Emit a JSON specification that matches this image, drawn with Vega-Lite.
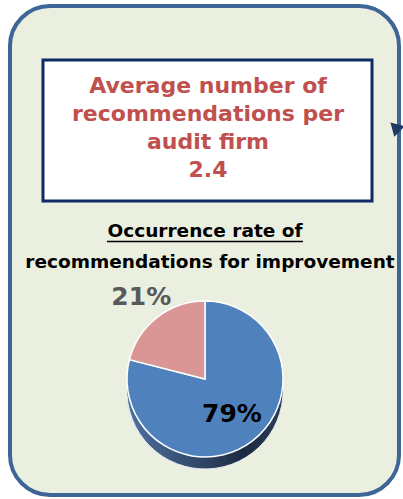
{
  "$schema": "https://vega.github.io/schema/vega-lite/v6.json",
  "width": 389,
  "height": 489,
  "autosize": "none",
  "padding": {"left": 10, "top": 6, "right": 4, "bottom": 4},
  "background": "white",
  "config": {
    "view": {"fill": "#EBEFDF", "stroke": "#3D6596", "strokeWidth": 4, "cornerRadius": 40},
    "font": "DejaVu Sans"
  },
  "data": {
    "values": [
      {"cat": "With recommendations", "value": 79, "label": "79%"},
      {"cat": "Without recommendations", "value": 21, "label": "21%"}
    ]
  },
  "layer": [
    {
      "data": {"values": [{}]},
      "mark": {"type": "rect", "fill": "white", "stroke": "#0F2B66", "strokeWidth": 3},
      "encoding": {
        "x": {"datum": 8.48, "type": "quantitative", "scale": {"domain": [0, 100]}, "axis": null},
        "x2": {"datum": 93.06},
        "y": {"datum": 11.04, "type": "quantitative", "scale": {"domain": [0, 100], "reverse": true}, "axis": null},
        "y2": {"datum": 39.88}
      }
    },
    {
      "data": {"values": [{}]},
      "mark": {"type": "text", "text": ["Average number of", "recommendations per", "audit firm", "2.4"], "fontSize": 22, "fontWeight": "bold", "fill": "#C0504D", "align": "center", "baseline": "alphabetic", "lineHeight": 28},
      "encoding": {
        "x": {"datum": 50.9, "type": "quantitative", "scale": {"domain": [0, 100]}, "axis": null},
        "y": {"datum": 17.79, "type": "quantitative", "scale": {"domain": [0, 100], "reverse": true}, "axis": null}
      }
    },
    {
      "data": {"values": [{}]},
      "mark": {"type": "text", "text": "Occurrence rate of", "fontSize": 18.5, "fontWeight": "bold", "fill": "#000000", "align": "center", "baseline": "alphabetic"},
      "encoding": {
        "x": {"datum": 50.13, "type": "quantitative", "scale": {"domain": [0, 100]}, "axis": null},
        "y": {"datum": 47.14, "type": "quantitative", "scale": {"domain": [0, 100], "reverse": true}, "axis": null}
      }
    },
    {
      "data": {"values": [{}]},
      "mark": {"type": "text", "text": "recommendations for improvement", "fontSize": 18.5, "fontWeight": "bold", "fill": "#000000", "align": "center", "baseline": "alphabetic"},
      "encoding": {
        "x": {"datum": 51.41, "type": "quantitative", "scale": {"domain": [0, 100]}, "axis": null},
        "y": {"datum": 53.58, "type": "quantitative", "scale": {"domain": [0, 100], "reverse": true}, "axis": null}
      }
    },
    {
      "data": {"values": [{}]},
      "mark": {"type": "rule", "stroke": "#000000", "strokeWidth": 1.3},
      "encoding": {
        "x": {"datum": 24.94, "type": "quantitative", "scale": {"domain": [0, 100]}, "axis": null},
        "x2": {"datum": 75.32},
        "y": {"datum": 48.16, "type": "quantitative", "scale": {"domain": [0, 100], "reverse": true}, "axis": null}
      }
    },
    {
      "mark": {"type": "arc", "outerRadius": 78, "stroke": "#E6EAF0", "strokeWidth": 1,
        "color": {"gradient": "linear", "x1": 0, "y1": 0, "x2": 1, "y2": 0,
          "stops": [{"offset": 0, "color": "#4D72A3"}, {"offset": 0.75, "color": "#1D2B42"}, {"offset": 1, "color": "#2A3D5A"}]}},
      "encoding": {
        "theta": {"field": "value", "type": "quantitative", "stack": true},
        "detail": {"field": "cat"},
        "order": {"field": "value", "sort": "descending"},
        "x": {"datum": 50.13, "type": "quantitative", "scale": {"domain": [0, 100]}, "axis": null},
        "y": {"datum": 78.73, "type": "quantitative", "scale": {"domain": [0, 100], "reverse": true}, "axis": null}
      }
    },
    {
      "mark": {"type": "arc", "outerRadius": 78,
        "color": {"gradient": "linear", "x1": 0, "y1": 0, "x2": 1, "y2": 0,
          "stops": [{"offset": 0, "color": "#4D72A3"}, {"offset": 0.75, "color": "#1D2B42"}, {"offset": 1, "color": "#2A3D5A"}]}},
      "encoding": {
        "theta": {"field": "value", "type": "quantitative", "stack": true},
        "detail": {"field": "cat"},
        "order": {"field": "value", "sort": "descending"},
        "x": {"datum": 50.13, "type": "quantitative", "scale": {"domain": [0, 100]}, "axis": null},
        "y": {"datum": 77.51, "type": "quantitative", "scale": {"domain": [0, 100], "reverse": true}, "axis": null}
      }
    },
    {
      "mark": {"type": "arc", "outerRadius": 78, "stroke": "white", "strokeWidth": 1.5},
      "encoding": {
        "theta": {"field": "value", "type": "quantitative", "stack": true},
        "color": {"field": "cat", "type": "nominal", "scale": {"domain": ["With recommendations", "Without recommendations"], "range": ["#4F81BD", "#D99694"]}, "legend": null},
        "order": {"field": "value", "sort": "descending"},
        "x": {"datum": 50.13, "type": "quantitative", "scale": {"domain": [0, 100]}, "axis": null},
        "y": {"datum": 76.28, "type": "quantitative", "scale": {"domain": [0, 100], "reverse": true}, "axis": null}
      }
    },
    {
      "mark": {"type": "text", "radius": 44, "fontSize": 25, "fontWeight": "bold", "fill": "#000000", "align": "center", "baseline": "middle"},
      "encoding": {
        "theta": {"field": "value", "type": "quantitative", "stack": true},
        "detail": {"field": "cat"},
        "order": {"field": "value", "sort": "descending"},
        "text": {"condition": {"test": "datum.value > 50", "field": "label"}, "value": ""},
        "x": {"datum": 50.13, "type": "quantitative", "scale": {"domain": [0, 100]}, "axis": null},
        "y": {"datum": 76.28, "type": "quantitative", "scale": {"domain": [0, 100], "reverse": true}, "axis": null}
      }
    },
    {
      "mark": {"type": "text", "radius": 104, "fontSize": 25, "fontWeight": "bold", "fill": "#595959", "align": "center", "baseline": "middle"},
      "encoding": {
        "theta": {"field": "value", "type": "quantitative", "stack": true},
        "detail": {"field": "cat"},
        "order": {"field": "value", "sort": "descending"},
        "text": {"condition": {"test": "datum.value < 50", "field": "label"}, "value": ""},
        "x": {"datum": 50.13, "type": "quantitative", "scale": {"domain": [0, 100]}, "axis": null},
        "y": {"datum": 76.28, "type": "quantitative", "scale": {"domain": [0, 100], "reverse": true}, "axis": null}
      }
    },
    {
      "data": {"values": [{}]},
      "mark": {"type": "point", "shape": "triangle-up", "angle": -45, "size": 220, "filled": true, "color": "#1F3864", "opacity": 1},
      "encoding": {
        "x": {"datum": 98.97, "type": "quantitative", "scale": {"domain": [0, 100]}, "axis": null},
        "y": {"datum": 24.74, "type": "quantitative", "scale": {"domain": [0, 100], "reverse": true}, "axis": null}
      }
    }
  ]
}
